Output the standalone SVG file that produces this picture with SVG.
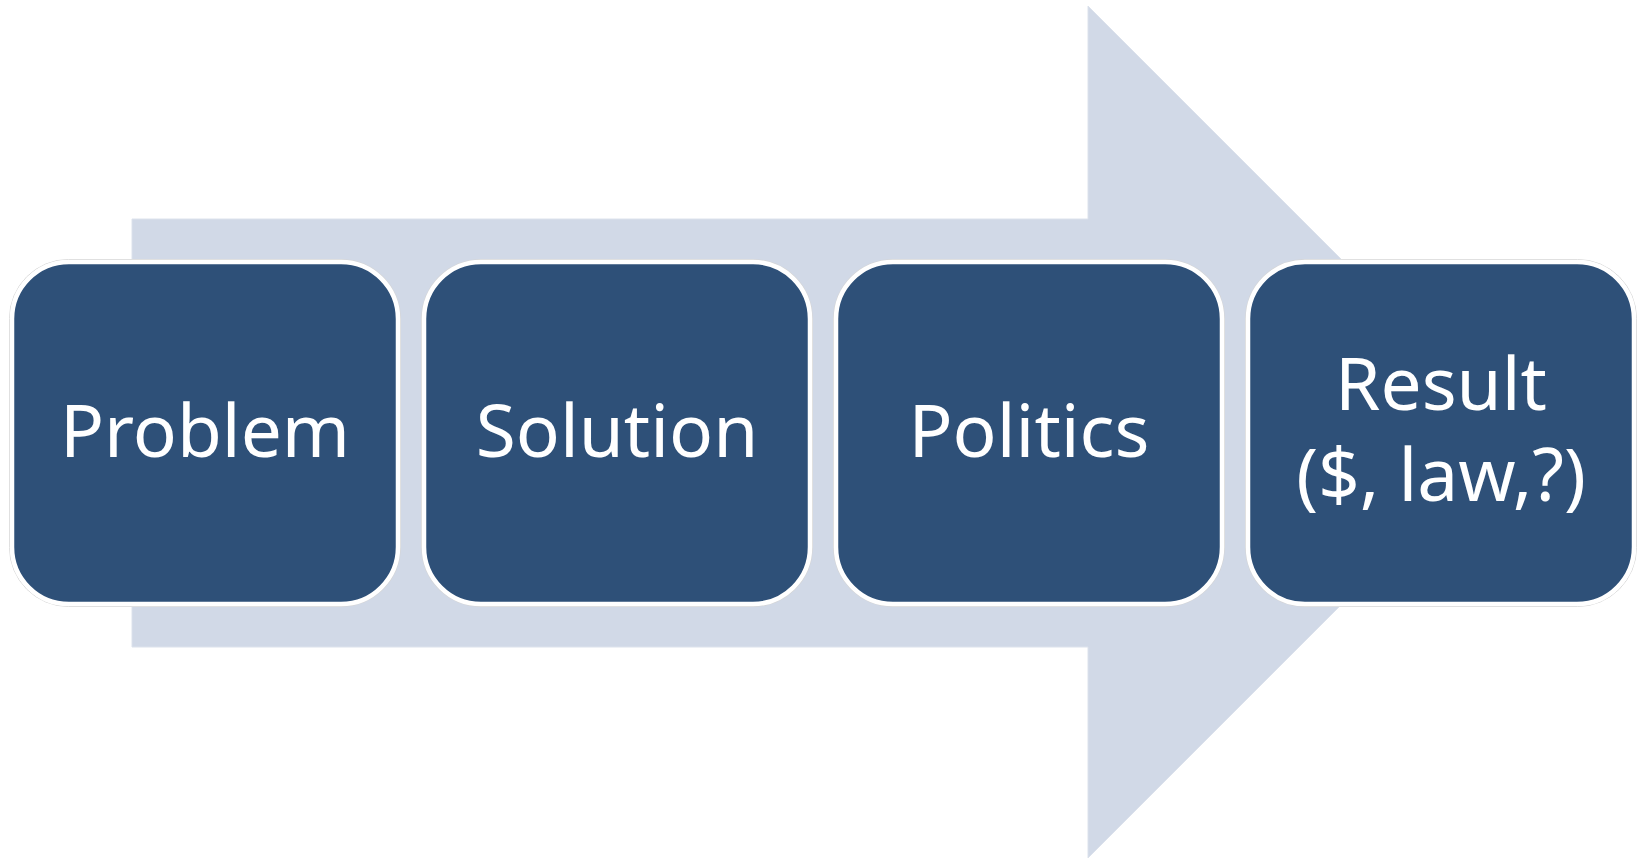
<svg xmlns="http://www.w3.org/2000/svg" width="1642" height="859" viewBox="0 0 1642 859">
  <style>
    .box { fill: #2E5078; stroke: #FFFFFF; stroke-width: 4.5; }
    .halo { fill: none; stroke: #D6D6D6; stroke-width: 1; }
    .label { fill: #FFFFFF; font-family: "Noto Sans", "Open Sans", sans-serif; font-size: 73px; text-anchor: middle; }
  </style>
  <rect width="1642" height="859" fill="#FFFFFF"/>
  <g id="connectors">
    <polygon id="big-arrow" points="132,219 1088,219 1088,6 1514,432 1088,858 1088,647 132,647" fill="#D1D9E7" stroke="#DCE2EC" stroke-width="1"/>
  </g>
  <g id="node-problem">
    <rect class="halo" x="9.5" y="259.5" width="391" height="347" rx="59"/>
    <rect class="box" x="12" y="262" width="386" height="342" rx="57"/>
    <text class="label" x="205" y="457">Problem</text>
  </g>
  <g id="node-solution">
    <rect class="halo" x="421.5" y="259.5" width="391" height="347" rx="59"/>
    <rect class="box" x="424" y="262" width="386" height="342" rx="57"/>
    <text class="label" x="617" y="457">Solution</text>
  </g>
  <g id="node-politics">
    <rect class="halo" x="833.5" y="259.5" width="391" height="347" rx="59"/>
    <rect class="box" x="836" y="262" width="386" height="342" rx="57"/>
    <text class="label" x="1029" y="457">Politics</text>
  </g>
  <g id="node-result">
    <rect class="halo" x="1245.5" y="259.5" width="391" height="347" rx="59"/>
    <rect class="box" x="1248" y="262" width="386" height="342" rx="57"/>
    <text class="label" x="1441" y="410">Result</text>
    <text class="label" x="1441" y="501">($, law,?)</text>
  </g>
</svg>
